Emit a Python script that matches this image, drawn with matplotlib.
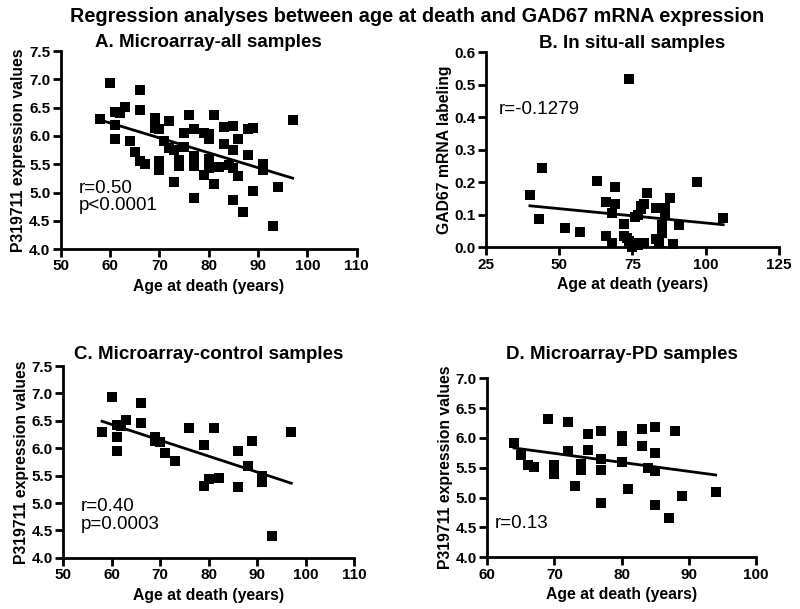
import matplotlib
matplotlib.use("Agg")
import matplotlib.pyplot as plt
import numpy as np

plt.rcParams['font.family'] = ['Liberation Sans', 'DejaVu Sans']

# Microarray - control samples (age, expression)
ctrl_age = [58, 60, 61, 61, 61, 62, 63, 66, 66, 69, 69, 70, 71, 73, 76, 79, 79,
            80, 81, 82, 86, 86, 88, 89, 91, 91, 93, 97]
ctrl_val = [6.30, 6.93, 6.42, 6.20, 5.95, 6.40, 6.51, 6.82, 6.46, 6.20, 6.14, 6.12,
            5.91, 5.76, 6.37, 6.05, 5.31, 5.43, 6.37, 5.45, 5.95, 5.30, 5.67, 6.14,
            5.50, 5.39, 4.40, 6.29]

# Microarray - PD samples
pd_age = [64, 65, 66, 67, 69, 70, 70, 72, 72, 73, 74, 74, 75, 75, 77, 77, 77, 77,
          80, 80, 80, 81, 83, 83, 84, 85, 85, 85, 85, 87, 88, 89, 94]
pd_val = [5.92, 5.71, 5.55, 5.51, 6.32, 5.55, 5.40, 6.27, 5.78, 5.19, 5.57, 5.47,
          6.06, 5.80, 6.12, 5.65, 5.47, 4.91, 6.03, 5.94, 5.60, 5.15, 6.15, 5.86,
          5.49, 6.18, 5.75, 5.44, 4.87, 4.66, 6.12, 5.02, 5.10]

# In situ - all samples
situ_age = [40, 44, 43, 52, 57, 63, 66, 66, 69, 69, 68, 68, 72, 72, 73, 74, 74, 75,
            75, 76, 77, 76, 77, 78, 78, 79, 79, 80, 83, 83, 84, 85, 85, 86, 86, 88,
            89, 91, 97, 106]
situ_val = [0.162, 0.244, 0.087, 0.059, 0.047, 0.205, 0.138, 0.036, 0.185, 0.133,
            0.107, 0.014, 0.071, 0.036, 0.027, 0.019, 0.518, 0.011, 0.002, 0.013,
            0.006, 0.092, 0.098, 0.119, 0.126, 0.133, 0.014, 0.168, 0.122, 0.024,
            0.015, 0.068, 0.044, 0.122, 0.101, 0.152, 0.009, 0.068, 0.201, 0.091]

# all microarray samples = controls + PD
all_age = ctrl_age + pd_age
all_val = ctrl_val + pd_val

ylab_micro = "P319711 expression values"
xlab = "Age at death (years)"

fig = plt.figure(figsize=(8, 6.09), dpi=100)
fig.suptitle("Regression analyses between age at death and GAD67 mRNA expression",
             fontsize=14.3, fontweight='bold', x=0.521, y=0.988)

panels = [
    # rect, x, y, title, ylabel, xlim, xticks, ylim, yticks, note, note pos, title pad
    ([0.076, 0.591, 0.370, 0.325], all_age, all_val, "A. Microarray-all samples",
     ylab_micro, (50, 110), np.arange(50, 111, 10), (4.0, 7.5), np.arange(4.0, 7.51, 0.5),
     "r=0.50\np<0.0001", (53.6, 4.92), 0),
    ([0.6075, 0.594, 0.366, 0.320], situ_age, situ_val, "B. In situ-all samples",
     "GAD67 mRNA labeling", (25, 125), np.arange(25, 126, 25), (0.0, 0.6),
     np.arange(0.0, 0.61, 0.1), "r=-0.1279", (29.2, 0.425), 0),
    ([0.079, 0.084, 0.364, 0.315], ctrl_age, ctrl_val, "C. Microarray-control samples",
     ylab_micro, (50, 110), np.arange(50, 111, 10), (4.0, 7.5), np.arange(4.0, 7.51, 0.5),
     "r=0.40\np=0.0003", (53.6, 4.77), 5),
    ([0.609, 0.085, 0.336, 0.294], pd_age, pd_val, "D. Microarray-PD samples",
     ylab_micro, (60, 100), np.arange(60, 101, 10), (4.0, 7.0), np.arange(4.0, 7.01, 0.5),
     "r=0.13", (61.1, 4.57), 13.5),
]

for rect, x, y, title, ylabel, xlim, xticks, ylim, yticks, note, npos, tpad in panels:
    ax = fig.add_axes(rect)
    ax.plot(x, y, 's', color='black', ms=7, mew=0, clip_on=False)
    # linear regression line over the data range
    slope, icpt = np.polyfit(x, y, 1)
    xs = np.array([min(x), max(x)])
    ax.plot(xs, slope * xs + icpt, color='black', lw=2)
    ax.set_xlim(*xlim)
    ax.set_ylim(*ylim)
    ax.set_xticks(xticks)
    ax.set_yticks(yticks)
    ax.yaxis.set_major_formatter(matplotlib.ticker.FormatStrFormatter("%.1f"))
    for s in ['top', 'right']:
        ax.spines[s].set_visible(False)
    for s in ['left', 'bottom']:
        ax.spines[s].set_linewidth(2)
    ax.tick_params(width=2, length=6, labelsize=11, direction='out', pad=1.5)
    for lbl in ax.get_xticklabels() + ax.get_yticklabels():
        lbl.set_fontweight('bold')
    ax.set_xlabel(xlab, fontsize=11.3, fontweight='bold', labelpad=4)
    ax.set_ylabel(ylabel, fontsize=11.3, fontweight='bold', labelpad=2)
    ax.set_title(title, fontsize=13.5, fontweight='bold', pad=tpad)
    ax.text(npos[0], npos[1], note, fontsize=13.5, va='center', ha='left',
            linespacing=1.05)

fig.savefig("out.png", dpi=100)
